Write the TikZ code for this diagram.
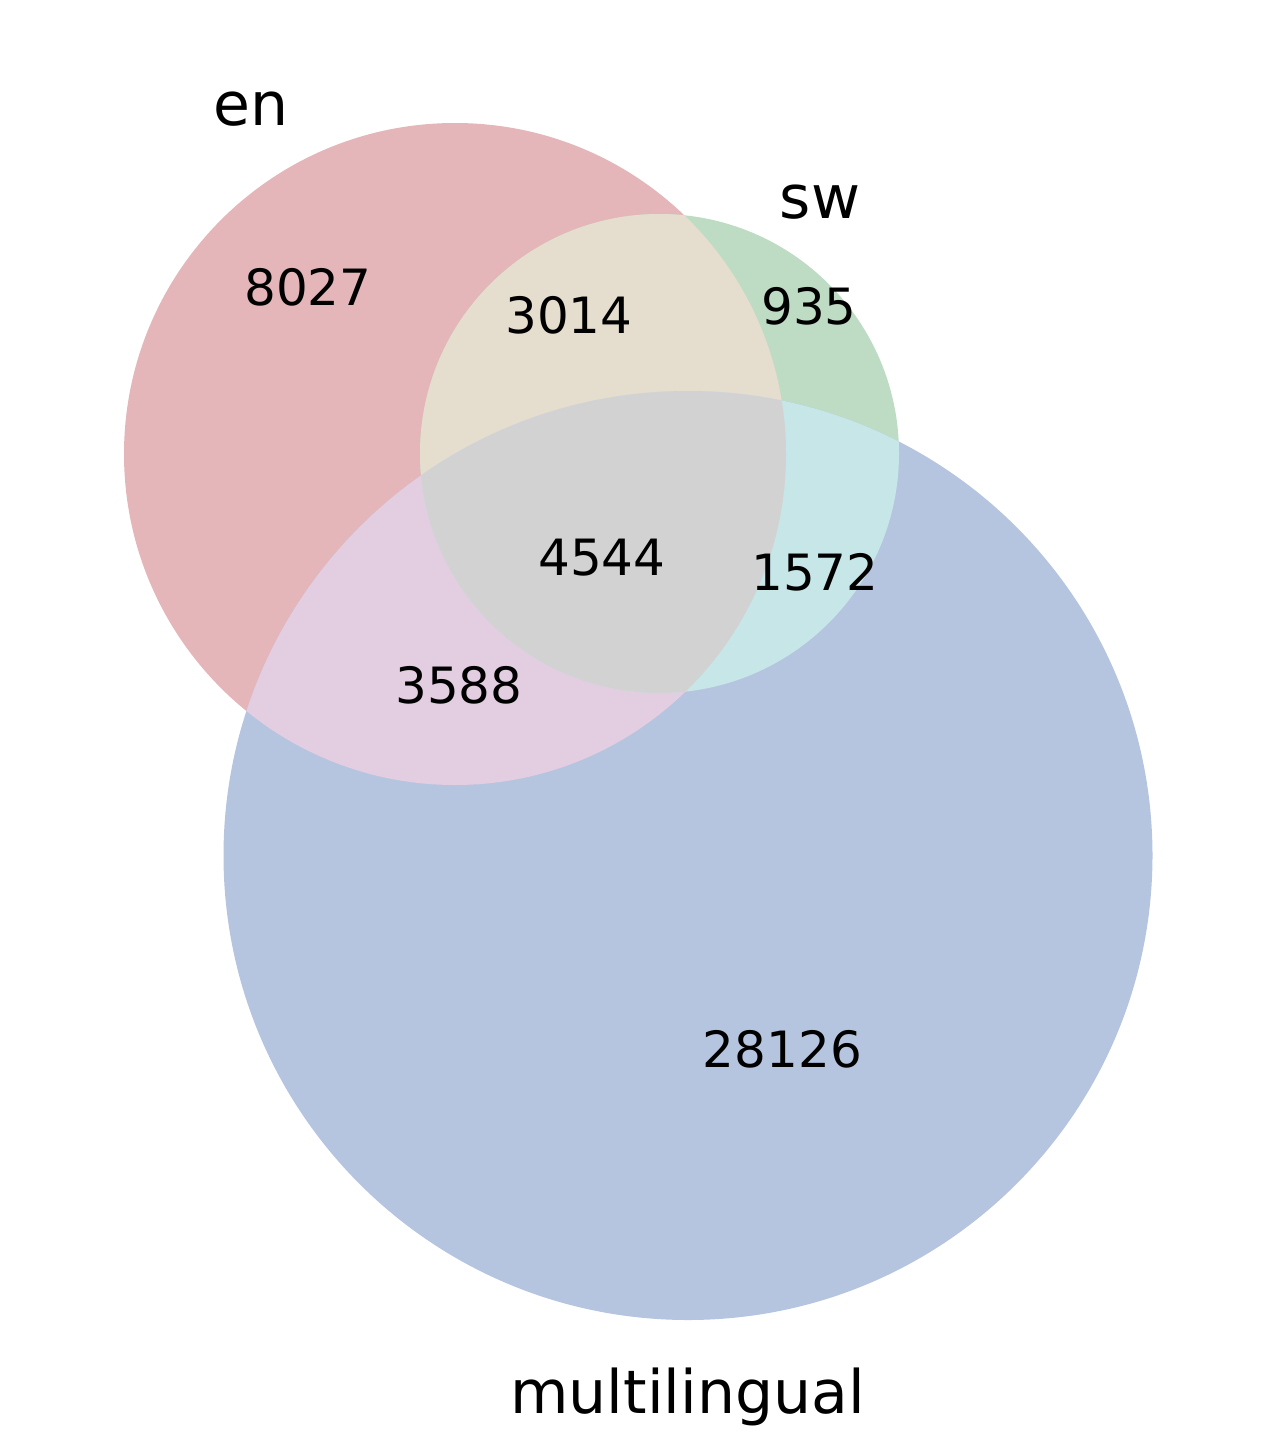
\documentclass[tikz,border=0pt]{standalone}
\usepackage{fontspec}
\setmainfont{DejaVu Sans}
\definecolor{cen}{RGB}{228,182,185}
\definecolor{csw}{RGB}{190,219,196}
\definecolor{cml}{RGB}{182,197,223}
\definecolor{censw}{RGB}{229,221,206}
\definecolor{cenml}{RGB}{227,205,225}
\definecolor{cswml}{RGB}{198,230,232}
\definecolor{call}{RGB}{210,210,210}
\tikzset{
  setlabel/.style={inner sep=0pt, anchor=base, font=\fontsize{30pt}{36pt}\selectfont},
  numlabel/.style={inner sep=0pt, anchor=base, font=\fontsize{25pt}{30pt}\selectfont},
}
\begin{document}
\begin{tikzpicture}[x=0.5pt,y=-0.5pt]
\useasboundingbox (0,0) rectangle (1277,1456);
\def\cen{(455,454) circle[radius=331]}
\def\csw{(659.5,453.5) circle[radius=239.5]}
\def\cml{(688,855.5) circle[radius=464.5]}
\fill[cen] \cen;
\fill[csw] \csw;
\fill[cml] \cml;
\begin{scope}
  \clip \cen;
  \fill[censw] \csw;
  \fill[cenml] \cml;
\end{scope}
\begin{scope}
  \clip \csw;
  \fill[cswml] \cml;
\end{scope}
\begin{scope}
  \clip \cen;
  \clip \csw;
  \fill[call] \cml;
\end{scope}
\node[setlabel] (len) at (251,125) {en};
\node[setlabel] (lsw) at (820,218) {sw};
\node[setlabel] (lml) at (687.5,1413) {multilingual};
\node[numlabel] (n100) at (308,305) {8027};
\node[numlabel] (n110) at (569,333) {3014};
\node[numlabel] (n010) at (809,324) {935};
\node[numlabel] (n111) at (602,575) {4544};
\node[numlabel] (n011) at (815,590) {1572};
\node[numlabel] (n101) at (459,703) {3588};
\node[numlabel] (n001) at (782.5,1067) {28126};
\end{tikzpicture}
\end{document}
